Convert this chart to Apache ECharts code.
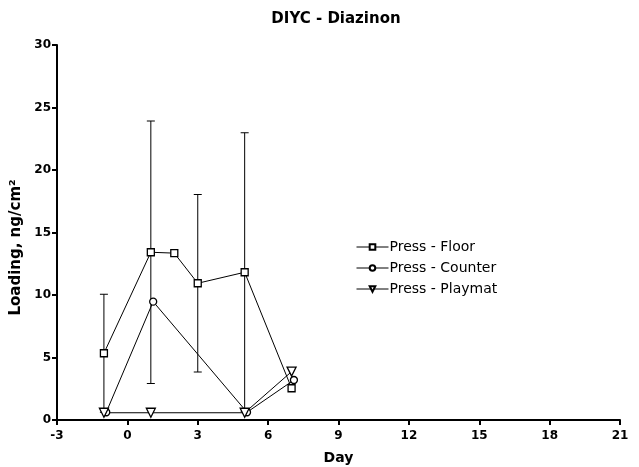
<!DOCTYPE html>
<html>
<head>
<meta charset="utf-8">
<script src="https://cdn.jsdelivr.net/npm/echarts@6/dist/echarts.min.js"></script>
<style>
html,body{margin:0;padding:0;background:#fff;}
#main{width:639px;height:467px;}
</style>
</head>
<body>
<div id="main"></div>
<script>
// values
var floorX = [-1, 1, 2, 3, 5, 7];
var floorY = [5.34, 13.42, 13.35, 10.94, 11.82, 2.54];
var floorErr = [4.72, 10.5, null, 7.1, 11.16, null];
var counterX = [-0.9, 1.1, 5.1, 7.1];
var counterY = [0.62, 9.47, 0.62, 3.2];
var playmatX = [-1, 1, 5, 7];
var playmatY = [0.58, 0.58, 0.58, 3.87];

function pairs(xs, ys){
    var out = [];
    for (var i = 0; i < xs.length; i++) out.push([xs[i], ys[i]]);
    return out;
}
var errData = [];
for (var i = 0; i < floorX.length; i++) {
    if (floorErr[i] != null) errData.push([floorX[i], floorY[i] - floorErr[i], floorY[i] + floorErr[i]]);
}

var font = 'DejaVu Sans, sans-serif';
var chart = echarts.init(document.getElementById('main'));
var option = {
    animation: false,
    title: {
        text: 'DIYC - Diazinon',
        left: 331, top: 7, textAlign: 'center',
        textStyle: {fontFamily: font, fontSize: 15, fontWeight: 'bold', color: '#000'}
    },
    legend: {
        orient: 'vertical',
        left: 351, top: 235,
        itemWidth: 32, itemHeight: 7, itemGap: 7,
        lineStyle: {width: 1},
        textStyle: {fontFamily: font, fontSize: 14, color: '#000', padding: [0, 0, 0, -4]},
        data: ['Press - Floor', 'Press - Counter', 'Press - Playmat']
    },
    grid: {left: 57, right: 19, top: 45, bottom: 47, outerBoundsMode: 'none'},
    xAxis: {
        type: 'value', min: -3, max: 21, interval: 3,
        name: 'Day', nameLocation: 'middle', nameGap: 31,
        nameTextStyle: {fontFamily: font, fontSize: 14, fontWeight: 'bold', color: '#000'},
        axisLine: {onZero: false, lineStyle: {color: '#000', width: 2}},
        axisTick: {length: 5, lineStyle: {color: '#000', width: 2}},
        axisLabel: {fontFamily: font, fontSize: 12, fontWeight: 'bold', color: '#000', margin: 10},
        splitLine: {show: false}
    },
    yAxis: {
        type: 'value', min: 0, max: 30, interval: 5,
        name: 'Loading, ng/cm²', nameLocation: 'middle', nameGap: 26,
        nameTextStyle: {fontFamily: font, fontSize: 15, fontWeight: 'bold', color: '#000', padding: [0, 30, 0, 0]},
        axisLine: {show: true, onZero: false, lineStyle: {color: '#000', width: 2}},
        axisTick: {show: true, length: 5, lineStyle: {color: '#000', width: 2}},
        axisLabel: {fontFamily: font, fontSize: 12, fontWeight: 'bold', color: '#000', margin: 6},
        splitLine: {show: false}
    },
    series: [
        {
            name: 'floorErr',
            type: 'custom',
            z: 1,
            data: errData,
            renderItem: function (params, api) {
                var top = api.coord([api.value(0), api.value(2)]);
                var bot = api.coord([api.value(0), api.value(1)]);
                var w = 4;
                var st = {stroke: '#000', lineWidth: 1};
                return {
                    type: 'group',
                    children: [
                        {type: 'line', shape: {x1: top[0], y1: top[1], x2: bot[0], y2: bot[1]}, style: st},
                        {type: 'line', shape: {x1: top[0] - w, y1: top[1], x2: top[0] + w, y2: top[1]}, style: st},
                        {type: 'line', shape: {x1: bot[0] - w, y1: bot[1], x2: bot[0] + w, y2: bot[1]}, style: st}
                    ]
                };
            }
        },
        {
            name: 'Press - Floor', type: 'line', z: 3,
            data: pairs(floorX, floorY),
            symbol: 'rect', symbolSize: 7, showAllSymbol: true,
            lineStyle: {color: '#000', width: 1},
            itemStyle: {color: '#fff', borderColor: '#000', borderWidth: 1.3}
        },
        {
            name: 'Press - Counter', type: 'line', z: 3,
            data: pairs(counterX, counterY),
            symbol: 'circle', symbolSize: 7, showAllSymbol: true,
            lineStyle: {color: '#000', width: 1},
            itemStyle: {color: '#fff', borderColor: '#000', borderWidth: 1.3}
        },
        {
            name: 'Press - Playmat', type: 'line', z: 3,
            data: pairs(playmatX, playmatY),
            symbol: 'triangle', symbolRotate: 180, symbolSize: 9, showAllSymbol: true,
            lineStyle: {color: '#000', width: 1},
            itemStyle: {color: '#fff', borderColor: '#000', borderWidth: 1.3}
        }
    ]
};
chart.setOption(option);
</script>
</body>
</html>
